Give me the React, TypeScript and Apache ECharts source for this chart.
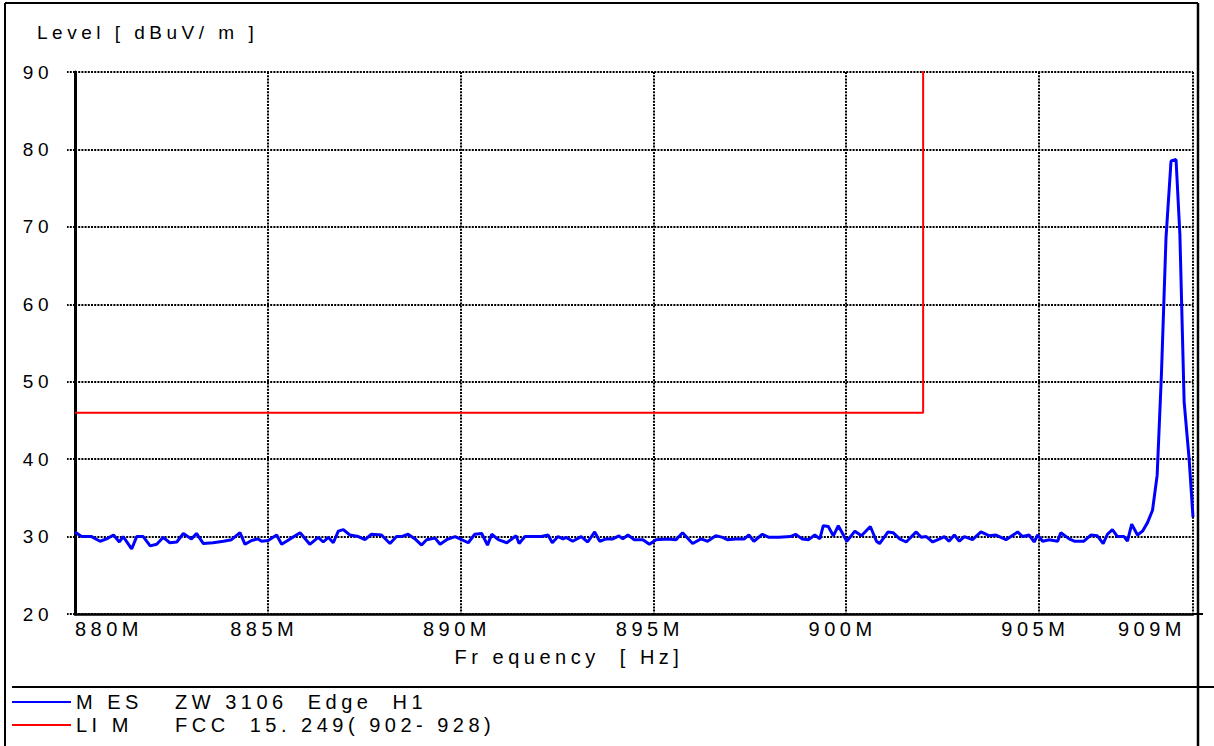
import React, { useEffect, useRef } from "react";
import * as echarts from "echarts";

const FONT = '"Liberation Sans", Arial, Helvetica, sans-serif';

// Measured trace "MES" (frequency in MHz, level in dBuV/m)
const mesFreq = [
  880.00, 880.17, 880.43, 880.65, 880.82, 881.00, 881.15, 881.25, 881.47, 881.60,
  881.77, 881.95, 882.12, 882.29, 882.46, 882.64, 882.81, 883.02, 883.15, 883.33,
  883.58, 883.85, 884.06, 884.28, 884.41, 884.58, 884.75, 884.84, 885.01, 885.23,
  885.36, 885.58, 885.84, 886.09, 886.31, 886.44, 886.57, 886.70, 886.83, 886.96,
  887.13, 887.35, 887.52, 887.69, 887.95, 888.17, 888.34, 888.47, 888.64, 888.82,
  888.99, 889.12, 889.34, 889.47, 889.64, 889.86, 890.03, 890.20, 890.37, 890.55,
  890.70, 890.81, 890.98, 891.20, 891.44, 891.52, 891.67, 891.90, 892.10, 892.27,
  892.38, 892.53, 892.66, 892.74, 892.91, 893.13, 893.30, 893.48, 893.61, 893.78,
  893.95, 894.11, 894.21, 894.34, 894.51, 894.73, 894.90, 895.07, 895.37, 895.59,
  895.76, 896.02, 896.24, 896.41, 896.62, 896.80, 896.92, 897.14, 897.36, 897.48,
  897.61, 897.83, 898.00, 898.26, 898.56, 898.69, 898.86, 899.03, 899.19, 899.32,
  899.41, 899.54, 899.67, 899.80, 900.02, 900.23, 900.40, 900.63, 900.79, 900.87,
  901.09, 901.22, 901.39, 901.56, 901.82, 901.95, 902.08, 902.25, 902.43, 902.55,
  902.67, 902.81, 902.94, 903.07, 903.28, 903.50, 903.72, 903.89, 904.15, 904.45,
  904.58, 904.75, 904.88, 904.97, 905.10, 905.27, 905.49, 905.57, 905.79, 905.92,
  906.17, 906.35, 906.52, 906.67, 906.78, 906.91, 907.04, 907.21, 907.30, 907.41,
  907.56, 907.69, 907.82, 907.95, 908.07, 908.18, 908.30, 908.43, 908.56, 908.66,
  908.77, 908.90, 909.00,
];
const mesLevel = [
  30.6, 30.0, 30.0, 29.4, 29.7, 30.2, 29.3, 30.0, 28.4, 30.0,
  30.0, 28.8, 29.0, 29.9, 29.2, 29.3, 30.4, 29.7, 30.4, 29.1,
  29.2, 29.4, 29.6, 30.5, 29.0, 29.5, 29.7, 29.4, 29.5, 30.2,
  29.0, 29.7, 30.5, 29.0, 29.9, 29.3, 29.9, 29.2, 30.7, 30.9,
  30.2, 30.0, 29.6, 30.3, 30.2, 29.1, 30.0, 30.0, 30.3, 29.7,
  28.9, 29.6, 29.8, 29.0, 29.6, 30.0, 29.6, 29.2, 30.3, 30.4,
  28.9, 30.3, 29.6, 29.2, 30.1, 29.1, 30.0, 30.0, 30.0, 30.2,
  29.2, 30.0, 29.7, 29.9, 29.4, 30.0, 29.3, 30.6, 29.4, 29.7,
  29.7, 30.1, 29.7, 30.2, 29.6, 29.6, 29.0, 29.6, 29.7, 29.6,
  30.5, 29.1, 29.7, 29.4, 30.1, 29.9, 29.6, 29.7, 29.7, 30.2,
  29.4, 30.3, 29.9, 29.9, 30.0, 30.3, 29.7, 29.6, 30.2, 29.7,
  31.4, 31.3, 30.1, 31.4, 29.4, 30.7, 30.1, 31.3, 29.4, 29.1,
  30.6, 30.5, 29.7, 29.3, 30.6, 29.9, 30.0, 29.3, 29.7, 30.0,
  29.4, 30.2, 29.4, 30.0, 29.6, 30.6, 30.1, 30.2, 29.6, 30.6,
  30.0, 30.2, 29.3, 30.2, 29.4, 29.6, 29.4, 30.5, 29.7, 29.4,
  29.4, 30.2, 30.1, 29.1, 30.3, 30.9, 30.0, 30.0, 29.4, 31.6,
  30.2, 30.7, 31.8, 33.4, 37.9, 50.8, 68.6, 78.5, 78.7, 69.0,
  47.4, 40.0, 32.5,
];

// Limit line "LIM" FCC 15.249 (902-928)
const limFreq = [880, 902, 902, 909];
const limLevel = [46, 46, 94, 94];

// Axis settings
const xMin = 880;
const xMax = 909;
const xStep = 5;
const yMin = 20;
const yMax = 90;
const yStep = 10;

const legendNames = ["M ES", "LI M"];
const legendDescs = ["ZW 3106  Edge  H1", "FCC  15. 249( 902- 928)"];

const yTitle = "Level [ dBuV/ m ]";
const xTitle = "Fr equency  [ Hz]";

export default function App() {
  const ref = useRef<HTMLDivElement>(null);

  useEffect(() => {
    if (!ref.current) return;
    const chart = echarts.init(ref.current, null, { renderer: "svg" });
    const dotted = [2, 1.2];
    const lineEl = (x1: number, y1: number, x2: number, y2: number, w: number) => ({
      type: "line",
      silent: true,
      shape: { x1, y1, x2, y2 },
      style: { stroke: "#000", lineWidth: w },
      z: 100,
    });
    chart.setOption({
      animation: false,
      backgroundColor: "#ffffff",
      textStyle: { fontFamily: FONT, color: "#000" },
      grid: { left: 75, right: 21, top: 72, bottom: 132, containLabel: false },
      xAxis: {
        type: "value",
        min: xMin,
        max: xMax,
        interval: xStep,
        axisLine: { show: true, onZero: false, lineStyle: { color: "#000", width: 2.5 } },
        axisTick: { show: false },
        axisLabel: {
          color: "#000",
          fontSize: 20,
          fontFamily: FONT,
          margin: 5,
          padding: [0, 7, 0, 0],
          showMinLabel: true,
          showMaxLabel: true,
          alignMinLabel: "left",
          alignMaxLabel: "right",
          formatter: (v: number) => `${v}M`,
        },
        splitLine: { show: true, lineStyle: { color: "#000", width: 2, type: dotted } },
      },
      yAxis: {
        type: "value",
        min: yMin,
        max: yMax,
        interval: yStep,
        axisLine: { show: true, onZero: false, lineStyle: { color: "#000", width: 3 } },
        axisTick: { show: true, length: 8, lineStyle: { color: "#000", width: 2, type: dotted } },
        axisLabel: { color: "#000", fontSize: 19, fontFamily: FONT, margin: 22 },
        splitLine: { show: true, lineStyle: { color: "#000", width: 2, type: dotted } },
      },
      legend: {
        orient: "vertical",
        left: 12,
        top: 692,
        padding: 0,
        icon: "rect",
        itemWidth: 59,
        itemHeight: 2,
        itemGap: 3,
        selectedMode: false,
        data: legendNames,
        formatter: (name: string) => `{a|${name}}{b|${legendDescs[legendNames.indexOf(name)]}}`,
        textStyle: {
          color: "#000",
          fontFamily: FONT,
          fontSize: 20,
          rich: {
            a: { width: 99, fontSize: 20, fontFamily: FONT, color: "#000", lineHeight: 20 },
            b: { fontSize: 20, fontFamily: FONT, color: "#000", lineHeight: 20 },
          },
        },
      },
      graphic: [
        {
          type: "text",
          x: 37,
          y: 32,
          silent: true,
          style: { text: yTitle, fill: "#000", font: `19px ${FONT}`, align: "left", verticalAlign: "middle" },
        },
        {
          type: "text",
          x: 569,
          y: 657,
          silent: true,
          style: { text: xTitle, fill: "#000", font: `20px ${FONT}`, align: "center", verticalAlign: "middle" },
        },
        lineEl(5, 3, 1198, 3, 2),
        lineEl(5, 3, 5, 746, 2),
        lineEl(1198, 3, 1198, 746, 2.5),
        lineEl(12, 687, 1214, 687, 2),
        lineEl(1193, 614, 1203, 614, 2),
      ],
      series: [
        {
          name: legendNames[0],
          type: "line",
          data: mesFreq.map((f, i) => [f, mesLevel[i]]),
          symbol: "none",
          color: "#0000ff",
          lineStyle: { color: "#0000ff", width: 3 },
          z: 4,
        },
        {
          name: legendNames[1],
          type: "line",
          data: limFreq.map((f, i) => [f, limLevel[i]]),
          symbol: "none",
          color: "#ff0000",
          lineStyle: { color: "#ff0000", width: 2 },
          z: 3,
        },
      ],
    });
    return () => chart.dispose();
  }, []);

  return (
    <>
      <style>{`#chart text { letter-spacing: 4.5px; }`}</style>
      <div
        id="chart"
        ref={ref}
        style={{ position: "fixed", left: 0, top: 0, width: 1214, height: 746, background: "#fff" }}
      />
    </>
  );
}
